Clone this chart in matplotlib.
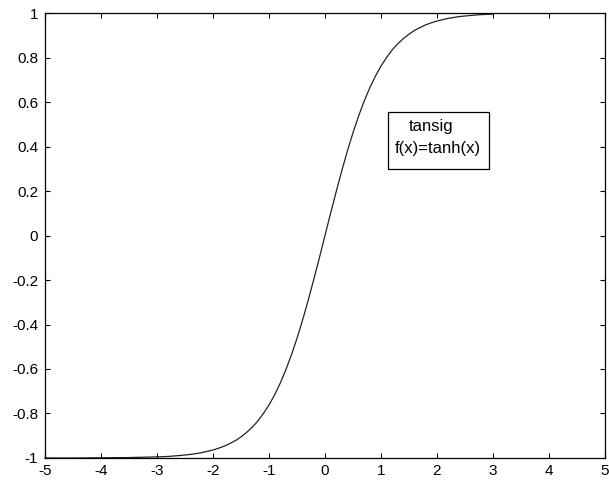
import matplotlib
matplotlib.use("Agg")
import matplotlib.pyplot as plt
from matplotlib.patches import Rectangle

plt.rcParams['font.family'] = ['Liberation Sans', 'DejaVu Sans']

# точки кривої
x = [-5, -4.5, -4, -3.5, -3, -2.8, -2.6, -2.4, -2.2,
     -2, -1.9, -1.8, -1.7, -1.6, -1.5, -1.4, -1.3, -1.2, -1.1,
     -1, -0.9, -0.8, -0.7, -0.6, -0.5, -0.4, -0.3, -0.2, -0.1,
     0, 0.1, 0.2, 0.3, 0.4, 0.5, 0.6, 0.7, 0.8, 0.9,
     1, 1.1, 1.2, 1.3, 1.4, 1.5, 1.6, 1.7, 1.8, 1.9,
     2, 2.2, 2.4, 2.6, 2.8, 3]
y = [-1.000, -1.000, -0.999, -0.998, -0.995, -0.993, -0.989, -0.984, -0.976,
     -0.964, -0.956, -0.947, -0.935, -0.922, -0.905, -0.885, -0.862, -0.834, -0.800,
     -0.762, -0.716, -0.664, -0.604, -0.537, -0.462, -0.380, -0.291, -0.197, -0.100,
     0.000, 0.100, 0.197, 0.291, 0.380, 0.462, 0.537, 0.604, 0.664, 0.716,
     0.762, 0.800, 0.834, 0.862, 0.885, 0.905, 0.922, 0.935, 0.947, 0.956,
     0.964, 0.976, 0.984, 0.989, 0.993, 0.995]

xticks = [-5, -4, -3, -2, -1, 0, 1, 2, 3, 4, 5]
xlabels = ['-5', '-4', '-3', '-2', '-1', '0', '1', '2', '3', '4', '5']
yticks = [-1, -0.8, -0.6, -0.4, -0.2, 0, 0.2, 0.4, 0.6, 0.8, 1]
ylabels = ['-1', '-0.8', '-0.6', '-0.4', '-0.2', '0', '0.2', '0.4', '0.6', '0.8', '1']

fig = plt.figure(figsize=(6.09, 4.82), dpi=100)
ax = fig.add_axes([0.0739, 0.0498, 0.9195, 0.9232])

ax.plot(x, y, color='#222222', linewidth=0.9, clip_on=False)

ax.set_xlim(-5, 5)
ax.set_ylim(-1, 1)
ax.set_xticks(xticks)
ax.set_xticklabels(xlabels)
ax.set_yticks(yticks)
ax.set_yticklabels(ylabels)
ax.tick_params(direction='in', length=3.6, width=0.8, top=True, right=True,
               labelsize=11, colors='black')
ax.tick_params(axis='x', pad=4)
ax.tick_params(axis='y', pad=5)
for s in ax.spines.values():
    s.set_linewidth(0.9)

# підпис у рамці
ax.add_patch(Rectangle((1.125, 0.299), 1.805, 0.256, fill=False,
                       edgecolor='black', linewidth=0.9))
ax.text(1.89, 0.488, 'tansig', fontsize=12, ha='center', va='center')
ax.text(2.02, 0.39, 'f(x)=tanh(x)', fontsize=12, ha='center', va='center')

fig.savefig('out.png', dpi=100)
